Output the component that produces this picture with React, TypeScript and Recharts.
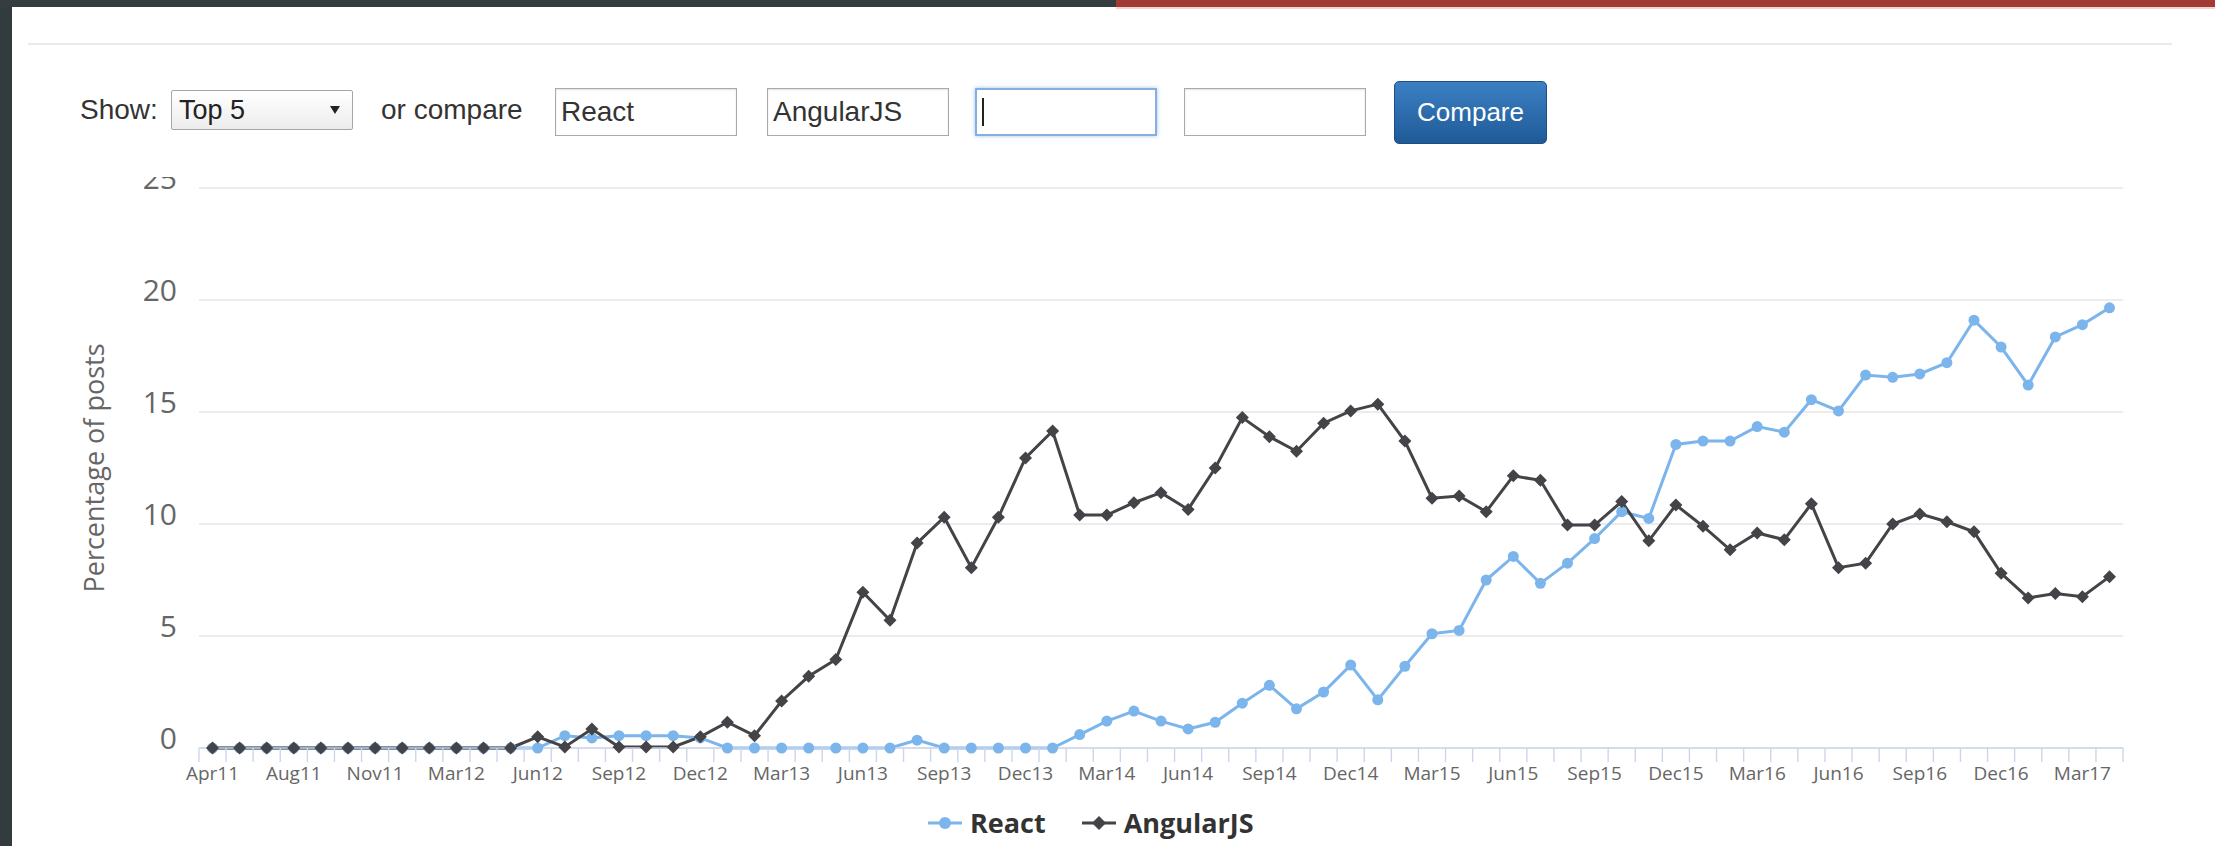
import React from "react";
import { LineChart, Line, XAxis, YAxis, CartesianGrid } from "recharts";

const months = [
  "Apr11", "May11", "Jun11", "Aug11", "Sep11", "Oct11", "Nov11", "Dec11", "Feb12", "Mar12", "Apr12", "May12",
  "Jun12", "Jul12", "Aug12", "Sep12", "Oct12", "Nov12", "Dec12", "Jan13", "Feb13", "Mar13", "Apr13", "May13",
  "Jun13", "Jul13", "Aug13", "Sep13", "Oct13", "Nov13", "Dec13", "Jan14", "Feb14", "Mar14",
  "Apr14", "May14", "Jun14", "Jul14", "Aug14", "Sep14", "Oct14", "Nov14", "Dec14", "Jan15",
  "Feb15", "Mar15", "Apr15", "May15", "Jun15", "Jul15", "Aug15", "Sep15", "Oct15", "Nov15",
  "Dec15", "Jan16", "Feb16", "Mar16", "Apr16", "May16", "Jun16", "Jul16", "Aug16", "Sep16",
  "Oct16", "Nov16", "Dec16", "Jan17", "Feb17", "Mar17", "Apr17",
];

const reactShare = [
  0, 0, 0, 0, 0, 0, 0, 0, 0, 0, 0, 0,
  0, 0.55, 0.45, 0.55, 0.55, 0.55, 0.45, 0, 0, 0, 0, 0,
  0, 0, 0.35, 0, 0, 0, 0, 0, 0.6, 1.2,
  1.65, 1.2, 0.85, 1.15, 2.0, 2.8, 1.75, 2.5, 3.7, 2.15,
  3.65, 5.1, 5.25, 7.5, 8.55, 7.35, 8.25, 9.35, 10.55, 10.25,
  13.55, 13.7, 13.7, 14.35, 14.1, 15.55, 15.05, 16.65, 16.55, 16.7,
  17.2, 19.1, 17.9, 16.2, 18.35, 18.9, 19.65,
];

const angularShare = [
  0, 0, 0, 0, 0, 0, 0, 0, 0, 0, 0, 0,
  0.5, 0.05, 0.85, 0.05, 0.05, 0.05, 0.5, 1.15, 0.55, 2.1, 3.2, 3.95,
  6.95, 5.7, 9.15, 10.3, 8.05, 10.3, 12.95, 14.15, 10.4, 10.4,
  10.95, 11.4, 10.65, 12.5, 14.75, 13.9, 13.25, 14.5, 15.05, 15.35,
  13.7, 11.15, 11.25, 10.55, 12.15, 11.95, 9.95, 9.95, 11.0, 9.25,
  10.85, 9.9, 8.85, 9.6, 9.3, 10.9, 8.05, 8.25, 10.0, 10.45,
  10.1, 9.65, 7.8, 6.7, 6.9, 6.75, 7.65,
];

const yTicks = [0, 5, 10, 15, 20, 25];

const series = [
  { key: "React", color: "#7cb5ec", shape: "circle" },
  { key: "AngularJS", color: "#434348", shape: "diamond" },
];

const data = months.map((m, i) => ({
  month: m,
  React: reactShare[i],
  AngularJS: angularShare[i],
}));

// plot box in page pixels
const W = 2215;
const H = 846;
const PLOT_LEFT = 199;
const PLOT_RIGHT = 2123;
const PLOT_TOP = 188;
const PLOT_BOTTOM = 748;
const PAD = 13.5;
const step = (PLOT_RIGHT - PLOT_LEFT - 2 * PAD) / (months.length - 1);

const chartFont = "'Open Sans', 'DejaVu Sans', sans-serif";
const uiFont = "'Liberation Sans', Arial, sans-serif";

const XTick = (props: any) => {
  const { x, y, payload } = props;
  const i = props.index ?? payload.index;
  const half = step / 2;
  const c = "#ccd6eb";
  return (
    <g>
      <line x1={x - half} x2={x - half} y1={y - 14} y2={y} stroke={c} strokeWidth={1.4} />
      {i === months.length - 1 && (
        <line x1={x + half} x2={x + half} y1={y - 14} y2={y} stroke={c} strokeWidth={1.4} />
      )}
      {i % 3 === 0 && (
        <text x={x} y={y + 18} textAnchor="middle" fontSize={19} fill="#666" fontFamily={chartFont}>
          {payload.value}
        </text>
      )}
    </g>
  );
};

const YTick = (props: any) => {
  const { x, y, payload } = props;
  return (
    <text x={x} y={y - 11} textAnchor="end" dominantBaseline="central" fontSize={30} fill="#666" fontFamily={chartFont}>
      {payload.value}
    </text>
  );
};

const YTitle = (props: any) => {
  const vb = props.viewBox || {};
  const cx = vb.x - 6;
  const cy = vb.y + vb.height / 2;
  return (
    <text
      x={cx}
      y={cy}
      transform={`rotate(-90 ${cx} ${cy})`}
      textAnchor="middle"
      dominantBaseline="central"
      fontSize={27}
      fill="#666"
      fontFamily={chartFont}
    >
      Percentage of posts
    </text>
  );
};

const Diamond = (props: any) => {
  const { cx, cy, fill } = props;
  if (cx == null || cy == null) return null;
  const r = 6.5;
  return <path d={`M${cx} ${cy - r}L${cx + r} ${cy}L${cx} ${cy + r}L${cx - r} ${cy}Z`} fill={fill} />;
};

const inputStyle: React.CSSProperties = {
  position: "absolute",
  top: 88,
  height: 48,
  width: 182,
  boxSizing: "border-box",
  border: "1px solid #a9a9a9",
  boxShadow: "inset 0 1px 2px rgba(0,0,0,0.12)",
  background: "#fff",
  fontFamily: uiFont,
  fontSize: 28,
  color: "#333",
  lineHeight: "46px",
  paddingLeft: 5,
};

const LegendSymbol = ({ color, shape }: { color: string; shape: string }) => (
  <svg width={34} height={20} style={{ marginRight: 8 }}>
    <line x1={0} x2={34} y1={10} y2={10} stroke={color} strokeWidth={3} />
    {shape === "circle" ? (
      <circle cx={17} cy={10} r={6} fill={color} />
    ) : (
      <path d="M17 3L24 10L17 17L10 10Z" fill={color} />
    )}
  </svg>
);

export default function App() {
  return (
    <div style={{ position: "absolute", left: 0, top: 0, width: W, height: H, overflow: "hidden", background: "#fff" }}>
      {/* page chrome */}
      <div style={{ position: "absolute", left: 0, top: 0, width: 12, height: H, background: "#323c3f" }} />
      <div style={{ position: "absolute", left: 0, top: 0, width: 1116, height: 7, background: "#343e41" }} />
      <div style={{ position: "absolute", left: 1116, top: 0, width: W - 1116, height: 7, background: "#a23b33" }} />
      <div style={{ position: "absolute", left: 1116, top: 7, width: W - 1116, height: 2, background: "#f2d4d2" }} />

      <div style={{ position: "absolute", left: 0, top: 0 }}>
        <LineChart
          width={W}
          height={H}
          data={data}
          margin={{ top: PLOT_TOP, right: W - PLOT_RIGHT, bottom: H - PLOT_BOTTOM - 40, left: PLOT_LEFT - 100 }}
        >
          <CartesianGrid vertical={false} stroke="#e6e6e6" strokeWidth={1.4} />
          <XAxis
            dataKey="month"
            interval={0}
            padding={{ left: PAD, right: PAD }}
            height={40}
            tickSize={14}
            tickMargin={0}
            tickLine={false}
            axisLine={{ stroke: "#ccd6eb", strokeWidth: 1.4 }}
            tick={<XTick />}
          />
          <YAxis
            domain={[0, 25]}
            ticks={yTicks}
            width={100}
            tickSize={6}
            tickMargin={16}
            axisLine={false}
            tickLine={false}
            tick={<YTick />}
            label={<YTitle />}
          />
          <Line
            dataKey="React"
            stroke={series[0].color}
            strokeWidth={3}
            dot={{ r: 5.5, fill: series[0].color, stroke: series[0].color, strokeWidth: 0 }}
            activeDot={false}
            isAnimationActive={false}
          />
          <Line
            dataKey="AngularJS"
            stroke={series[1].color}
            strokeWidth={3}
            dot={<Diamond fill={series[1].color} />}
            activeDot={false}
            isAnimationActive={false}
          />
        </LineChart>
      </div>

      {/* controls panel */}
      <div style={{ position: "absolute", left: 12, top: 46, width: W - 12, height: 131, background: "#fff" }} />
      <div style={{ position: "absolute", left: 28, top: 43, width: 2144, height: 2, background: "#e9e9e9" }} />
      <div style={{ position: "absolute", left: 80, top: 93, fontFamily: uiFont, fontSize: 28, color: "#333", lineHeight: "34px" }}>
        Show:
      </div>
      <div
        style={{
          position: "absolute",
          left: 171,
          top: 90,
          width: 182,
          height: 40,
          boxSizing: "border-box",
          border: "1px solid #a6a6a6",
          borderRadius: 2,
          background: "linear-gradient(#ffffff, #ececec)",
          fontFamily: uiFont,
          fontSize: 27,
          color: "#222",
          lineHeight: "38px",
          paddingLeft: 7,
        }}
      >
        Top 5
        <div
          style={{
            position: "absolute",
            right: 12,
            top: 15,
            width: 0,
            height: 0,
            borderLeft: "5px solid transparent",
            borderRight: "5px solid transparent",
            borderTop: "8px solid #222",
          }}
        />
      </div>
      <div style={{ position: "absolute", left: 381, top: 93, fontFamily: uiFont, fontSize: 28, color: "#333", lineHeight: "34px" }}>
        or compare
      </div>
      <div style={{ ...inputStyle, left: 555 }}>React</div>
      <div style={{ ...inputStyle, left: 767 }}>AngularJS</div>
      <div style={{ ...inputStyle, left: 975, border: "2px solid #86aee0", boxShadow: "0 0 4px rgba(102,153,220,0.6)" }}>
        <div style={{ position: "absolute", left: 5, top: 8, width: 2, height: 28, background: "#222" }} />
      </div>
      <div style={{ ...inputStyle, left: 1184 }} />
      <div
        style={{
          position: "absolute",
          left: 1394,
          top: 81,
          width: 153,
          height: 63,
          boxSizing: "border-box",
          border: "1px solid #1d4f86",
          borderRadius: 5,
          background: "linear-gradient(#3b80c3, #1f5a97)",
          color: "#fff",
          fontFamily: uiFont,
          fontSize: 26,
          lineHeight: "61px",
          textAlign: "center",
        }}
      >
        Compare
      </div>

      {/* legend */}
      <div
        style={{
          position: "absolute",
          left: 928,
          top: 806,
          display: "flex",
          alignItems: "center",
          fontFamily: chartFont,
          fontWeight: 700,
          fontSize: 27,
          color: "#333",
          lineHeight: "34px",
        }}
      >
        {series.map((s) => (
          <div key={s.key} style={{ display: "flex", alignItems: "center", marginRight: 36 }}>
            <LegendSymbol color={s.color} shape={s.shape} />
            {s.key}
          </div>
        ))}
      </div>
    </div>
  );
}
